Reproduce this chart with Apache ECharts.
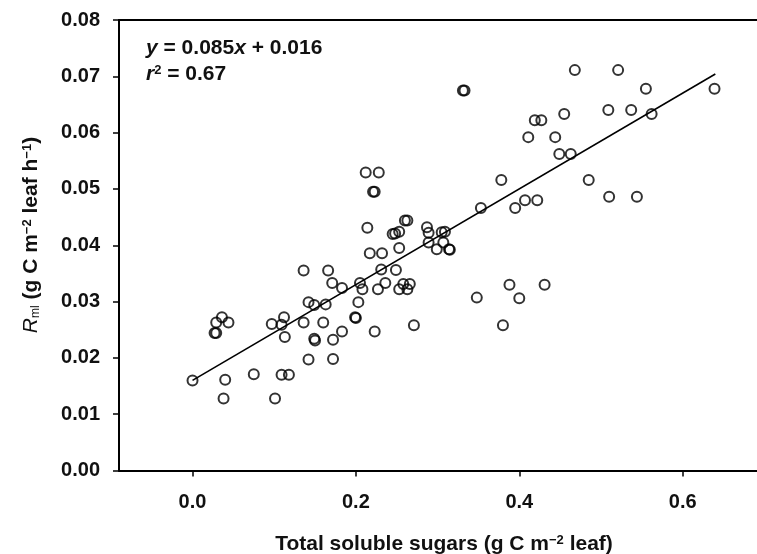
<!DOCTYPE html>
<html>
<head>
<meta charset="utf-8">
<script src="https://cdn.jsdelivr.net/npm/echarts@6/dist/echarts.min.js"></script>
<style>
  html, body {margin: 0; padding: 0; background: #fff;}
  #chart {width: 757px; height: 554px;}
</style>
</head>
<body>
<div id="chart"></div>
<script>
// total soluble sugars (g C m-2 leaf)
const sugars = [
  0.000, 0.036, 0.029, 0.044, 0.029, 0.027, 0.040, 0.038, 0.075, 0.109,
  0.118, 0.101, 0.097, 0.112, 0.113, 0.109, 0.142, 0.136, 0.149, 0.149,
  0.150, 0.142, 0.160, 0.163, 0.172, 0.172, 0.183, 0.183, 0.171, 0.199,
  0.200, 0.203, 0.205, 0.208, 0.223, 0.227, 0.136, 0.166, 0.231, 0.249,
  0.236, 0.253, 0.258, 0.263, 0.266, 0.271, 0.212, 0.228, 0.221, 0.223,
  0.214, 0.260, 0.263, 0.245, 0.248, 0.253, 0.287, 0.289, 0.289, 0.217,
  0.232, 0.253, 0.305, 0.309, 0.299, 0.307, 0.314, 0.315, 0.331, 0.333,
  0.468, 0.521, 0.555, 0.639, 0.509, 0.537, 0.562, 0.455, 0.419, 0.427,
  0.411, 0.444, 0.449, 0.463, 0.378, 0.485, 0.510, 0.544, 0.353, 0.395,
  0.407, 0.422, 0.388, 0.431, 0.348, 0.400, 0.380
];
// Rml (g C m-2 leaf h-1)
const rml = [
  0.0160, 0.0272, 0.0263, 0.0263, 0.0244, 0.0244, 0.0161, 0.0128, 0.0171, 0.0170,
  0.0170, 0.0128, 0.0260, 0.0272, 0.0237, 0.0259, 0.0299, 0.0263, 0.0294, 0.0234,
  0.0231, 0.0197, 0.0263, 0.0295, 0.0232, 0.0198, 0.0247, 0.0324, 0.0333, 0.0272,
  0.0271, 0.0299, 0.0333, 0.0322, 0.0247, 0.0322, 0.0355, 0.0355, 0.0357, 0.0356,
  0.0333, 0.0322, 0.0331, 0.0322, 0.0331, 0.0258, 0.0529, 0.0529, 0.0495, 0.0495,
  0.0431, 0.0444, 0.0444, 0.0420, 0.0421, 0.0424, 0.0432, 0.0422, 0.0405, 0.0386,
  0.0386, 0.0395, 0.0423, 0.0424, 0.0393, 0.0405, 0.0393, 0.0392, 0.0675, 0.0675,
  0.0711, 0.0711, 0.0678, 0.0678, 0.0640, 0.0640, 0.0633, 0.0633, 0.0622, 0.0622,
  0.0592, 0.0592, 0.0562, 0.0562, 0.0516, 0.0516, 0.0486, 0.0486, 0.0466, 0.0466,
  0.0480, 0.0480, 0.0330, 0.0330, 0.0307, 0.0306, 0.0258
];
// fitted line end points
const fitX = [0.0, 0.64];
const fitY = [0.016, 0.0704];

const xTicks = [0.0, 0.2, 0.4, 0.6];

const FONT = 'Liberation Sans, Arial, sans-serif';

const chart = echarts.init(document.getElementById('chart'), null, {renderer: 'canvas'});

chart.setOption({
  animation: false,
  backgroundColor: '#fff',
  grid: {left: 119, right: 0, top: 20, bottom: 83.5},
  xAxis: [{
    type: 'value',
    min: -0.09,
    max: 0.691,
    splitLine: {show: false},
    axisLine: {onZero: false, lineStyle: {color: '#000', width: 2}},
    axisTick: {customValues: xTicks, length: 6, lineStyle: {color: '#000', width: 1.5}},
    axisLabel: {
      customValues: xTicks,
      margin: 22,
      color: '#111',
      fontFamily: FONT,
      fontWeight: 'bold',
      fontSize: 20,
      formatter: v => v.toFixed(1)
    }
  }, {
    type: 'value',
    position: 'top',
    min: -0.09,
    max: 0.691,
    splitLine: {show: false},
    axisLine: {onZero: false, lineStyle: {color: '#000', width: 2}},
    axisTick: {show: false},
    axisLabel: {show: false}
  }],
  yAxis: {
    type: 'value',
    min: 0,
    max: 0.08,
    interval: 0.01,
    splitLine: {show: false},
    axisLine: {onZero: false, lineStyle: {color: '#000', width: 2}},
    axisTick: {length: 6, lineStyle: {color: '#000', width: 1.5}},
    axisLabel: {
      margin: 19,
      color: '#111',
      fontFamily: FONT,
      fontWeight: 'bold',
      fontSize: 20,
      formatter: v => v.toFixed(2)
    }
  },
  graphic: [{
    type: 'text',
    left: 146,
    top: 38,
    style: {
      text: '{i|y} = 0.085{i|x} + 0.016',
      fill: '#111',
      font: 'bold 21px ' + FONT,
      rich: {
        i: {fontStyle: 'italic', fontWeight: 'bold', fontSize: 21, fontFamily: FONT, fill: '#111'}
      }
    }
  }, {
    type: 'text',
    left: 146,
    top: 64,
    style: {
      text: '{i|r}{s|2} = 0.67',
      fill: '#111',
      font: 'bold 21px ' + FONT,
      rich: {
        i: {fontStyle: 'italic', fontWeight: 'bold', fontSize: 21, fontFamily: FONT, fill: '#111'},
        s: {fontWeight: 'bold', fontSize: 13, fontFamily: FONT, verticalAlign: 'top', fill: '#111'}
      }
    }
  }, {
    type: 'text',
    x: 444,
    y: 544,
    style: {
      text: 'Total soluble sugars (g C m{s|−2} leaf)',
      fill: '#111',
      font: 'bold 21px ' + FONT,
      align: 'center',
      verticalAlign: 'middle',
      rich: {
        s: {fontWeight: 'bold', fontSize: 13, fontFamily: FONT, verticalAlign: 'top', fill: '#111'}
      }
    }
  }, {
    type: 'text',
    x: 31,
    y: 235,
    rotation: Math.PI / 2,
    style: {
      text: '{i|R}{b|ml} (g C m{s|−2} leaf h{s|−1})',
      fill: '#111',
      font: 'bold 21px ' + FONT,
      align: 'center',
      verticalAlign: 'middle',
      rich: {
        i: {fontStyle: 'italic', fontWeight: 'normal', fontSize: 21, fontFamily: FONT, fill: '#111'},
        b: {fontWeight: 'normal', fontSize: 12, fontFamily: FONT, verticalAlign: 'bottom', fill: '#111'},
        s: {fontWeight: 'bold', fontSize: 13, fontFamily: FONT, verticalAlign: 'top', fill: '#111'}
      }
    }
  }],
  series: [{
    type: 'line',
    data: fitX.map((x, i) => [x, fitY[i]]),
    symbol: 'none',
    lineStyle: {color: '#000', width: 1.6},
    z: 2
  }, {
    type: 'scatter',
    data: sugars.map((x, i) => [x, rml[i]]),
    symbol: 'circle',
    symbolSize: 10,
    itemStyle: {color: 'rgba(255,255,255,0)', borderColor: '#000', borderWidth: 2},
    z: 3
  }]
});
</script>
</body>
</html>
